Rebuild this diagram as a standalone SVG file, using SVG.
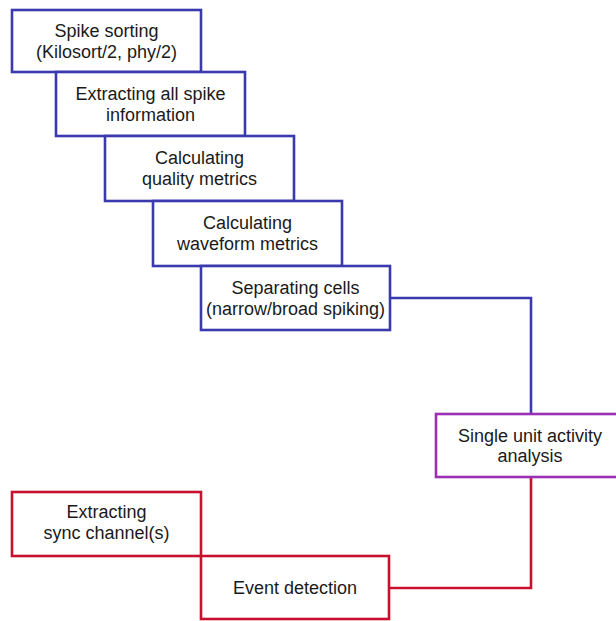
<svg xmlns="http://www.w3.org/2000/svg" width="616" height="621" viewBox="0 0 616 621">
<style>
.box{fill:#ffffff;stroke-width:2.6}
.blue{stroke:#3a3aae}
.purple{stroke:#9c2fb4}
.red{stroke:#c8102e}
.lbl{font-family:"Liberation Sans",Arial,sans-serif;font-size:18px;fill:#1a1a1a;text-anchor:middle}
.conn{fill:none;stroke-width:2.6}
</style>
<rect width="616" height="621" fill="#ffffff"/>
<g id="connectors">
<polyline class="conn blue" points="390,298 531,298 531,414"/>
<polyline class="conn red" points="389,588 531,588 531,477"/>
</g>
<g id="n1"><rect class="box blue" x="12" y="10" width="189" height="62"/>
<text class="lbl" x="106.5" y="37">Spike sorting</text><text class="lbl" x="106.5" y="58">(Kilosort/2, phy/2)</text></g>
<g id="n2"><rect class="box blue" x="56" y="72" width="189" height="64"/>
<text class="lbl" x="150.5" y="100">Extracting all spike</text><text class="lbl" x="150.5" y="121">information</text></g>
<g id="n3"><rect class="box blue" x="105" y="136" width="189" height="65"/>
<text class="lbl" x="199.5" y="164">Calculating</text><text class="lbl" x="199.5" y="185">quality metrics</text></g>
<g id="n4"><rect class="box blue" x="153" y="201" width="189" height="65"/>
<text class="lbl" x="247.5" y="229">Calculating</text><text class="lbl" x="247.5" y="250">waveform metrics</text></g>
<g id="n5"><rect class="box blue" x="201" y="266" width="189" height="64"/>
<text class="lbl" x="295.5" y="294">Separating cells</text><text class="lbl" x="295.5" y="315">(narrow/broad spiking)</text></g>
<g id="n6"><rect class="box purple" x="436" y="414" width="188" height="63"/>
<text class="lbl" x="530" y="442">Single unit activity</text><text class="lbl" x="530" y="462">analysis</text></g>
<g id="n7"><rect class="box red" x="12" y="492" width="189" height="64"/>
<text class="lbl" x="106.5" y="518">Extracting</text><text class="lbl" x="106.5" y="539">sync channel(s)</text></g>
<g id="n8"><rect class="box red" x="201" y="556" width="188" height="63"/>
<text class="lbl" x="295" y="593.5">Event detection</text></g>
</svg>
